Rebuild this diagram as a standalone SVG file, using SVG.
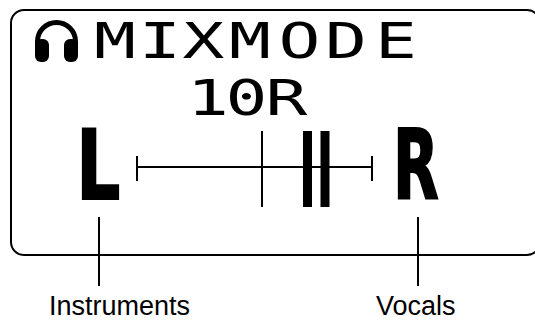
<svg xmlns="http://www.w3.org/2000/svg" width="535" height="321" viewBox="0 0 535 321">
<style>
.ln{stroke:#000;fill:none;stroke-width:2}
.lcd{font-family:"DejaVu Sans Mono",monospace;font-size:49px;fill:#000;text-anchor:middle}
.big{font-family:"DejaVu Sans",sans-serif;font-weight:bold;font-size:96px;fill:#000;stroke:#000;stroke-width:2}
.lbl{font-family:"Liberation Sans",Arial,sans-serif;font-size:27px;fill:#000}
</style>
<rect width="535" height="321" fill="#fff"/>
<g id="display">
<rect class="ln" x="11" y="10" width="529" height="245" rx="13"/>
<g id="headphones">
<path d="M37.5 50 V41.5 A19 19 0 0 1 75.5 41.5 V50" fill="none" stroke="#000" stroke-width="5"/>
<rect x="35" y="39" width="14" height="23" rx="6" fill="#000"/>
<rect x="64" y="39" width="14" height="23" rx="6" fill="#000"/>
</g>
<text id="title" class="lcd" transform="scale(1.42,1)" x="81 112.7 143.3 176.1 210.9 243.7 278.9" y="58">MIXMODE</text>
<text id="value" class="lcd" transform="scale(1.42,1)" x="146.5 173.6 201.8" y="115">10R</text>
<g id="letterL"><text class="big" transform="translate(82,199) scale(0.72,1)" x="-8">L</text></g>
<g id="letterR"><text class="big" transform="translate(398,199) scale(0.62,1)" x="-8">R</text></g>
<g id="slider">
<line class="ln" x1="137" y1="167" x2="372" y2="167"/>
<line class="ln" x1="137" y1="156" x2="137" y2="181" stroke-width="2.5"/>
<line class="ln" x1="372" y1="156" x2="372" y2="181" stroke-width="2.5"/>
<line class="ln" x1="262" y1="131" x2="262" y2="207"/>
<rect x="303" y="131" width="9" height="76" fill="#000"/>
<rect x="320.5" y="131" width="9" height="76" fill="#000"/>
</g>
</g>
<g id="connectors">
<line class="ln" x1="99" y1="217" x2="99" y2="286"/>
<line class="ln" x1="418" y1="217" x2="418" y2="286"/>
</g>
<g id="labels">
<text class="lbl" x="49" y="315">Instruments</text>
<text class="lbl" x="376" y="315">Vocals</text>
</g>
</svg>
